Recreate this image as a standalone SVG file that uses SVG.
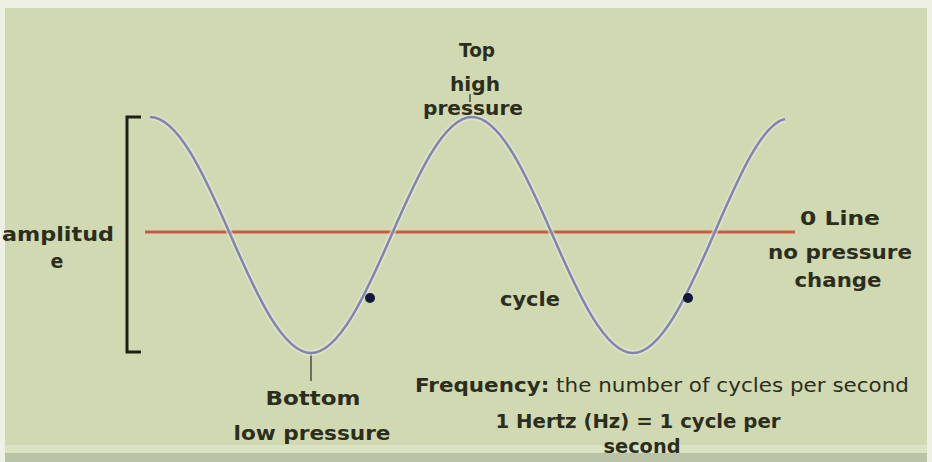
<svg xmlns="http://www.w3.org/2000/svg" width="932" height="462" viewBox="0 0 932 462">
<style>
.t{font-family:"DejaVu Sans","Liberation Sans",sans-serif;font-weight:bold;font-size:19px;fill:#2b2e1c;text-anchor:middle}
.n{font-weight:normal}
.wave{fill:none;stroke:#8284b0;stroke-width:2.5}
.halo{fill:none;stroke:#e4e8d8;stroke-width:6;opacity:0.6}
.dot{fill:#141838}
</style>
<rect x="0" y="0" width="932" height="462" fill="#eef0e4"/>
<rect x="5" y="8" width="922" height="440" fill="#d1d9b2"/>
<rect x="5" y="445" width="922" height="8" fill="#d9e2c2"/>
<rect x="5" y="453" width="922" height="9" fill="#b9c3a5"/>
<g id="bracket">
<path d="M141,117 H127 V352 H141" fill="none" stroke="#1e2012" stroke-width="3"/>
</g>
<g id="connectors">
<line x1="145" y1="232" x2="795" y2="232" stroke="#c65a45" stroke-width="3"/>
<line x1="311" y1="353" x2="311" y2="381" stroke="#4a4e3a" stroke-width="1.5"/>
<line x1="470" y1="94" x2="470" y2="102" stroke="#4a4e3a" stroke-width="1.5"/>
</g>
<g id="wave">
<path class="halo" d="M150,117 C177.9,117 204.25,174.6 230.5,235 C256.75,295.4 283.1,353 311,353 C338.9,353 365.25,295.4 391.5,235 C417.75,174.6 444.1,117 472,117 C499.9,117 526.25,174.6 552.5,235 C578.75,295.4 605.1,353 633,353 C660.9,353 687.25,295.4 713.5,235 C739.75,174.6 762,124 785,119"/>
<path class="wave" d="M150,117 C177.9,117 204.25,174.6 230.5,235 C256.75,295.4 283.1,353 311,353 C338.9,353 365.25,295.4 391.5,235 C417.75,174.6 444.1,117 472,117 C499.9,117 526.25,174.6 552.5,235 C578.75,295.4 605.1,353 633,353 C660.9,353 687.25,295.4 713.5,235 C739.75,174.6 762,124 785,119"/>
<circle class="dot" cx="370" cy="298" r="5"/>
<circle class="dot" cx="688" cy="298" r="5"/>
</g>
<g id="top-label">
<text class="t" x="477" y="57" textLength="36" lengthAdjust="spacingAndGlyphs">Top</text>
<text class="t" x="475" y="91" textLength="50" lengthAdjust="spacingAndGlyphs">high</text>
<text class="t" x="473" y="115" textLength="100" lengthAdjust="spacingAndGlyphs">pressure</text>
</g>
<g id="amplitude-label">
<text class="t" x="58" y="241" textLength="112" lengthAdjust="spacingAndGlyphs">amplitud</text>
<text class="t" x="57" y="268">e</text>
</g>
<g id="zero-label">
<text class="t" x="840" y="225" textLength="80" lengthAdjust="spacingAndGlyphs">0 Line</text>
<text class="t" x="840" y="259" textLength="144" lengthAdjust="spacingAndGlyphs">no pressure</text>
<text class="t" x="838" y="287" textLength="87" lengthAdjust="spacingAndGlyphs">change</text>
</g>
<g id="cycle-label">
<text class="t" x="530" y="306" textLength="60" lengthAdjust="spacingAndGlyphs">cycle</text>
</g>
<g id="bottom-label">
<text class="t" x="313" y="405" textLength="95" lengthAdjust="spacingAndGlyphs">Bottom</text>
<text class="t" x="312" y="440" textLength="157" lengthAdjust="spacingAndGlyphs">low pressure</text>
</g>
<g id="frequency-label">
<text class="t" x="662" y="392" textLength="494" lengthAdjust="spacingAndGlyphs">Frequency:<tspan class="n"> the number of cycles per second</tspan></text>
<text class="t" x="638" y="428" textLength="285" lengthAdjust="spacingAndGlyphs">1 Hertz (Hz) = 1 cycle per</text>
<text class="t" x="642" y="453" textLength="77" lengthAdjust="spacingAndGlyphs">second</text>
</g>
</svg>
